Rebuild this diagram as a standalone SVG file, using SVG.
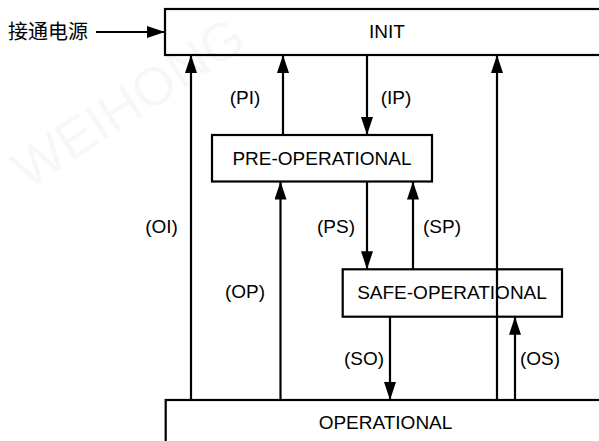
<svg xmlns="http://www.w3.org/2000/svg" width="599" height="441" viewBox="0 0 599 441">
<defs>
<marker id="ah" markerWidth="18" markerHeight="12" refX="18" refY="6" orient="auto" markerUnits="userSpaceOnUse">
<path d="M0,0 L18,6 L0,12 Z" fill="#000"/>
</marker>
<style>
.box{fill:none;stroke:#000;stroke-width:2.2}
.lbl{font-family:"Liberation Sans",Arial,sans-serif;font-size:19px;fill:#000;text-anchor:middle}
.cn{font-family:"Liberation Sans","Noto Sans CJK SC",sans-serif;font-size:20px;fill:#000;text-anchor:end}
.con line{stroke:#000;stroke-width:2.2;marker-end:url(#ah)}
.wm{font-family:"Liberation Sans",Arial,sans-serif;font-size:54px;fill:#000;fill-opacity:0.03}
</style>
</defs>
<rect width="599" height="441" fill="#fff"/>
<text class="wm" x="28" y="190" transform="rotate(-33 28 190)">WEIHONG</text>
<g id="init"><rect class="box" x="165" y="9" width="445" height="46"/><text class="lbl" x="387" y="38">INIT</text></g>
<g id="preop"><rect class="box" x="212" y="135" width="220" height="46.5"/><text class="lbl" x="322" y="165">PRE-OPERATIONAL</text></g>
<g id="safeop"><rect class="box" x="342.7" y="269.3" width="219.3" height="47.4"/><text class="lbl" x="452" y="299">SAFE-OPERATIONAL</text></g>
<g id="op"><rect class="box" x="165.7" y="400" width="445" height="60"/><text class="lbl" x="385.5" y="429">OPERATIONAL</text></g>
<g id="power"><text class="cn" x="88" y="39">接通电源</text></g>
<g class="con" id="connectors">
<line x1="96" y1="32" x2="165" y2="32"/>
<line x1="191" y1="400" x2="191" y2="55"/>
<line x1="283" y1="135" x2="283" y2="55"/>
<line x1="367" y1="55" x2="367" y2="135"/>
<line x1="497" y1="400" x2="497" y2="55"/>
<line x1="280.5" y1="400" x2="280.5" y2="181.5"/>
<line x1="367" y1="181.5" x2="367" y2="269.3"/>
<line x1="413" y1="269.3" x2="413" y2="181.5"/>
<line x1="390" y1="316.7" x2="390" y2="400"/>
<line x1="515" y1="400" x2="515" y2="316.7"/>
</g>
<g id="labels">
<text class="lbl" x="245" y="104">(PI)</text>
<text class="lbl" x="396" y="104">(IP)</text>
<text class="lbl" x="161.5" y="233">(OI)</text>
<text class="lbl" x="245" y="298">(OP)</text>
<text class="lbl" x="336" y="233">(PS)</text>
<text class="lbl" x="442" y="233">(SP)</text>
<text class="lbl" x="364" y="364.5">(SO)</text>
<text class="lbl" x="540" y="364.5">(OS)</text>
</g>
</svg>
